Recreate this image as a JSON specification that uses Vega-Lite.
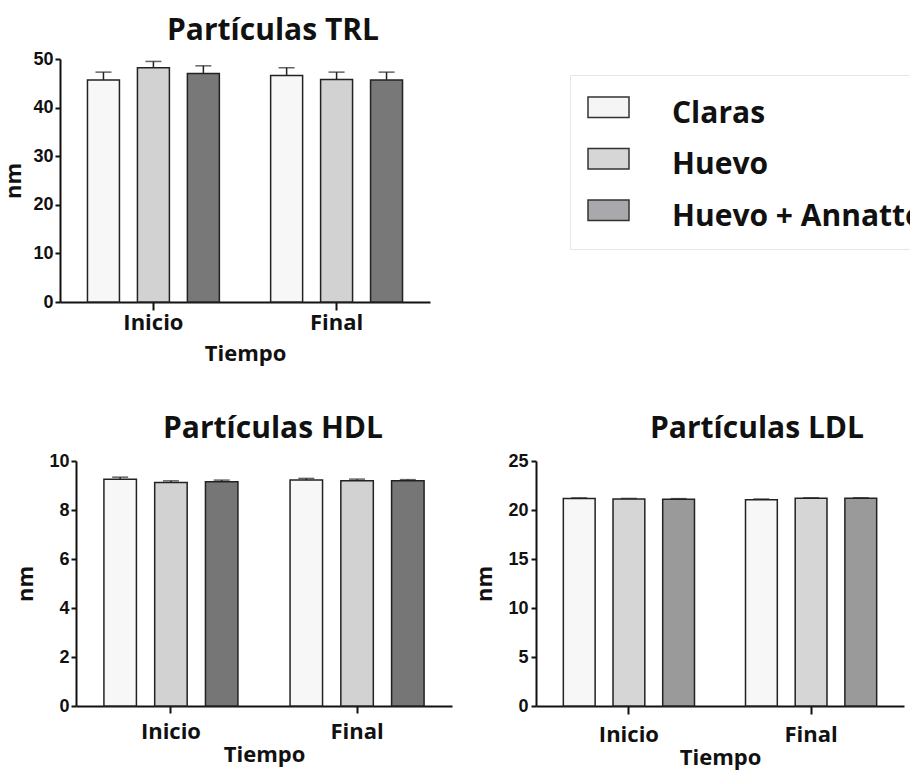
{
  "$schema": "https://vega.github.io/schema/vega-lite/v6.json",
  "autosize": {"type": "none"},
  "padding": {"left": 60, "top": 59, "right": 850, "bottom": 718},
  "background": "white",
  "config": {
    "view": {"stroke": null},
    "axis": {"grid": false, "domainColor": "#111", "tickColor": "#111", "labelColor": "#111", "titleColor": "#111", "domainWidth": 2, "tickWidth": 2},
    "axisY": {"labelFont": "Liberation Sans", "labelFontWeight": "bold", "labelFontSize": 18, "tickSize": 5, "labelPadding": 2, "titleFont": "Open Sans", "titleFontWeight": "bold", "titleFontSize": 22},
    "axisX": {"labelFont": "Open Sans", "labelFontWeight": "bold", "labelFontSize": 22, "labelAngle": 0, "tickSize": 8, "titleFont": "Open Sans", "titleFontWeight": "bold", "titleFontSize": 22},
    "title": {"font": "Open Sans", "fontWeight": "bold", "fontSize": 30, "color": "#111", "frame": "group", "anchor": "middle", "baseline": "alphabetic"}
  },
  "data": {"values": [
    {"panel": "TRL", "tiempo": "Inicio", "grupo": "Claras", "nm": 45.7, "hi": 47.3},
    {"panel": "TRL", "tiempo": "Inicio", "grupo": "Huevo", "nm": 48.2, "hi": 49.5},
    {"panel": "TRL", "tiempo": "Inicio", "grupo": "Huevo + Annatto", "nm": 47.0, "hi": 48.6},
    {"panel": "TRL", "tiempo": "Final", "grupo": "Claras", "nm": 46.6, "hi": 48.2},
    {"panel": "TRL", "tiempo": "Final", "grupo": "Huevo", "nm": 45.8, "hi": 47.3},
    {"panel": "TRL", "tiempo": "Final", "grupo": "Huevo + Annatto", "nm": 45.7, "hi": 47.3},
    {"panel": "HDL", "tiempo": "Inicio", "grupo": "Claras", "nm": 9.26, "hi": 9.34},
    {"panel": "HDL", "tiempo": "Inicio", "grupo": "Huevo", "nm": 9.12, "hi": 9.19},
    {"panel": "HDL", "tiempo": "Inicio", "grupo": "Huevo + Annatto", "nm": 9.15, "hi": 9.22},
    {"panel": "HDL", "tiempo": "Final", "grupo": "Claras", "nm": 9.22, "hi": 9.29},
    {"panel": "HDL", "tiempo": "Final", "grupo": "Huevo", "nm": 9.19, "hi": 9.26},
    {"panel": "HDL", "tiempo": "Final", "grupo": "Huevo + Annatto", "nm": 9.19, "hi": 9.24},
    {"panel": "LDL", "tiempo": "Inicio", "grupo": "Claras", "nm": 21.18, "hi": 21.24},
    {"panel": "LDL", "tiempo": "Inicio", "grupo": "Huevo", "nm": 21.12, "hi": 21.18},
    {"panel": "LDL", "tiempo": "Inicio", "grupo": "Huevo + Annatto", "nm": 21.1, "hi": 21.16},
    {"panel": "LDL", "tiempo": "Final", "grupo": "Claras", "nm": 21.05, "hi": 21.12},
    {"panel": "LDL", "tiempo": "Final", "grupo": "Huevo", "nm": 21.2, "hi": 21.25},
    {"panel": "LDL", "tiempo": "Final", "grupo": "Huevo + Annatto", "nm": 21.2, "hi": 21.25}
  ]},
  "bounds": "flush",
  "spacing": 159,
  "resolve": {"scale": {"fill": "independent", "color": "independent", "x": "independent", "y": "independent", "xOffset": "independent"}, "legend": {"color": "independent"}},
  "vconcat": [
    {
      "width": 370, "height": 243,
      "title": {"text": "Partículas TRL", "dx": 28, "offset": 4},
      "transform": [{"filter": "datum.panel === 'TRL'"}],
      "encoding": {
        "x": {"field": "tiempo", "type": "nominal", "sort": ["Inicio", "Final"], "title": "Tiempo",
              "scale": {"paddingInner": 0.28, "paddingOuter": 0.15},
              "axis": {"labelPadding": 2, "titlePadding": 10}},
        "xOffset": {"field": "grupo", "type": "nominal", "sort": ["Claras", "Huevo", "Huevo + Annatto"], "scale": {"paddingInner": 0.36, "paddingOuter": 0}}
      },
      "layer": [
        {"mark": {"type": "bar", "fillOpacity": 0, "strokeOpacity": 0},
         "encoding": {
           "y": {"field": "nm", "type": "quantitative", "scale": {"domain": [0, 50], "nice": false}},
           "color": {"field": "grupo", "type": "nominal", "sort": ["Claras", "Huevo", "Huevo + Annatto"],
                     "scale": {"domain": ["Claras", "Huevo", "Huevo + Annatto"], "range": ["#f5f5f5", "#d6d6d6", "#a9a9ad"]},
                     "legend": {"title": null, "orient": "none", "legendX": 510, "legendY": 16, "direction": "vertical",
                                "padding": 17, "fillColor": "white", "strokeColor": "#e6e6e6",
                                "symbolType": "M-1,-0.8H1V0.2H-1Z", "symbolSize": 1681, "symbolStrokeColor": "#333", "symbolStrokeWidth": 1.5, "symbolOpacity": 1, "symbolFillOpacity": 1,
                                "labelFont": "Open Sans", "labelFontWeight": "bold", "labelFontSize": 30, "labelColor": "#111", "labelOffset": 42, "labelLimit": 400,
                                "rowPadding": 14.5}}
         }},
        {"mark": {"type": "bar", "stroke": "#222", "strokeWidth": 1.5},
         "encoding": {
           "y": {"field": "nm", "type": "quantitative", "title": "nm", "scale": {"domain": [0, 50], "nice": false}, "axis": {"values": [0, 10, 20, 30, 40, 50], "titlePadding": 7}},
           "fill": {"field": "grupo", "type": "nominal", "sort": ["Claras", "Huevo", "Huevo + Annatto"], "scale": {"domain": ["Claras", "Huevo", "Huevo + Annatto"], "range": ["#f7f7f7", "#d2d2d2", "#787878"]}, "legend": null}
         }},
        {"mark": {"type": "rule", "color": "#222", "strokeWidth": 1.5},
         "encoding": {"y": {"field": "nm", "type": "quantitative", "scale": {"domain": [0, 50], "nice": false}}, "y2": {"field": "hi"}}},
        {"mark": {"type": "tick", "color": "#222", "thickness": 1.5, "size": 16},
         "encoding": {"y": {"field": "hi", "type": "quantitative", "scale": {"domain": [0, 50], "nice": false}}}}
      ]
    },
    {
      "hconcat": [
        {
          "hconcat": [
            {"width": 1, "height": 1, "data": {"values": [{"a": 1}]}, "mark": {"type": "point", "opacity": 0}},
            {
              "width": 376, "height": 245,
              "title": {"text": "Partículas HDL", "dx": 9, "offset": 8},
              "transform": [{"filter": "datum.panel === 'HDL'"}],
              "encoding": {
                "x": {"field": "tiempo", "type": "nominal", "sort": ["Inicio", "Final"], "title": "Tiempo",
                      "scale": {"paddingInner": 0.28, "paddingOuter": 0.15},
                      "axis": {"labelPadding": 8, "titlePadding": 2, "tickSize": 7}},
                "xOffset": {"field": "grupo", "type": "nominal", "sort": ["Claras", "Huevo", "Huevo + Annatto"], "scale": {"paddingInner": 0.36, "paddingOuter": 0}}
              },
              "layer": [
                {"mark": {"type": "bar", "stroke": "#222", "strokeWidth": 1.5},
                 "encoding": {
                   "y": {"field": "nm", "type": "quantitative", "title": "nm", "scale": {"domain": [0, 10], "nice": false}, "axis": {"values": [0, 2, 4, 6, 8, 10], "titlePadding": 11}},
                   "fill": {"field": "grupo", "type": "nominal", "sort": ["Claras", "Huevo", "Huevo + Annatto"], "scale": {"domain": ["Claras", "Huevo", "Huevo + Annatto"], "range": ["#f7f7f7", "#d2d2d2", "#767676"]}, "legend": null}
                 }},
                {"mark": {"type": "rule", "color": "#222", "strokeWidth": 1.5},
                 "encoding": {"y": {"field": "nm", "type": "quantitative", "scale": {"domain": [0, 10], "nice": false}}, "y2": {"field": "hi"}}},
                {"mark": {"type": "tick", "color": "#222", "thickness": 1.5, "size": 16},
                 "encoding": {"y": {"field": "hi", "type": "quantitative", "scale": {"domain": [0, 10], "nice": false}}}}
              ]
            }
          ],
          "spacing": 15,
          "bounds": "flush",
          "resolve": {"scale": {"fill": "independent", "x": "independent", "y": "independent", "xOffset": "independent"}}
        },
        {
          "width": 368, "height": 245,
          "title": {"text": "Partículas LDL", "dx": 37, "offset": 8},
          "transform": [{"filter": "datum.panel === 'LDL'"}],
          "encoding": {
            "x": {"field": "tiempo", "type": "nominal", "sort": ["Inicio", "Final"], "title": "Tiempo",
                  "scale": {"paddingInner": 0.28, "paddingOuter": 0.15},
                  "axis": {"labelPadding": 10, "titlePadding": 2}},
            "xOffset": {"field": "grupo", "type": "nominal", "sort": ["Claras", "Huevo", "Huevo + Annatto"], "scale": {"paddingInner": 0.36, "paddingOuter": 0}}
          },
          "layer": [
            {"mark": {"type": "bar", "stroke": "#222", "strokeWidth": 1.5},
             "encoding": {
               "y": {"field": "nm", "type": "quantitative", "title": "nm", "scale": {"domain": [0, 25], "nice": false}, "axis": {"values": [0, 5, 10, 15, 20, 25], "titlePadding": 11, "labelPadding": 3}},
               "fill": {"field": "grupo", "type": "nominal", "sort": ["Claras", "Huevo", "Huevo + Annatto"], "scale": {"domain": ["Claras", "Huevo", "Huevo + Annatto"], "range": ["#f7f7f7", "#d6d6d6", "#9a9a9a"]}, "legend": null}
             }},
            {"mark": {"type": "rule", "color": "#222", "strokeWidth": 1.5},
             "encoding": {"y": {"field": "nm", "type": "quantitative", "scale": {"domain": [0, 25], "nice": false}}, "y2": {"field": "hi"}}},
            {"mark": {"type": "tick", "color": "#222", "thickness": 1.5, "size": 16},
             "encoding": {"y": {"field": "hi", "type": "quantitative", "scale": {"domain": [0, 25], "nice": false}}}}
          ]
        }
      ],
      "spacing": 476,
      "bounds": "flush",
      "resolve": {"scale": {"fill": "independent", "x": "independent", "y": "independent", "xOffset": "independent"}}
    }
  ]
}
